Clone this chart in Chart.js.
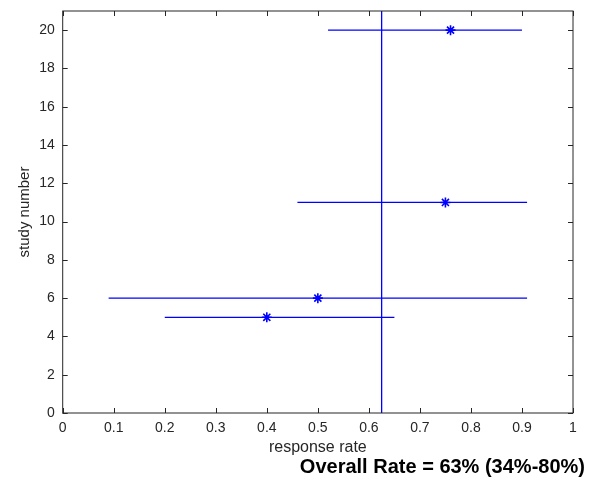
<!DOCTYPE html>
<html>
<head>
<meta charset="utf-8">
<script src="https://cdn.jsdelivr.net/npm/chart.js@4.4.1/dist/chart.umd.min.js"></script>
<style>
  html, body { margin: 0; padding: 0; background: #fff; }
  canvas { display: block; }
</style>
</head>
<body>
<canvas id="forestChart" width="600" height="486"></canvas>
<script>
// study data
const studies = [20, 11, 6, 5];
const rates = [0.76, 0.75, 0.50, 0.40];
const lowerCI = [0.52, 0.46, 0.09, 0.20];
const upperCI = [0.90, 0.91, 0.91, 0.65];
const overallRate = 0.625;
const summaryText = "Overall Rate = 63% (34%-80%)";

const xTicks = [0, 0.1, 0.2, 0.3, 0.4, 0.5, 0.6, 0.7, 0.8, 0.9, 1];
const yTicks = [0, 2, 4, 6, 8, 10, 12, 14, 16, 18, 20];
const yMin = 0, yMax = 21;

const BLUE = "#0000ff";
const AXIS = "#262626";

const datasets = [];

studies.forEach((s, i) => {
    datasets.push({
        data: [{ x: lowerCI[i], y: s }, { x: upperCI[i], y: s }],
        showLine: true,
        borderColor: BLUE,
        borderWidth: 1.3,
        pointRadius: 0
    });
});

datasets.push({
    data: [{ x: overallRate, y: yMin }, { x: overallRate, y: yMax }],
    showLine: true,
    borderColor: BLUE,
    borderWidth: 1.3,
    pointRadius: 0
});

datasets.push({
    data: studies.map((s, i) => ({ x: rates[i], y: s })),
    showLine: false,
    pointStyle: "star",
    pointRadius: 5,
    borderColor: BLUE,
    backgroundColor: BLUE,
    pointBorderWidth: 1.6
});

// matlab style box with inward ticks + summary text
const boxPlugin = {
    id: "matlabBox",
    afterDraw(chart) {
        const { ctx, chartArea: a, scales } = chart;
        const len = 5;
        ctx.save();
        ctx.strokeStyle = AXIS;
        ctx.lineWidth = 1;
        ctx.strokeRect(a.left, a.top, a.right - a.left, a.bottom - a.top);
        ctx.beginPath();
        xTicks.forEach(v => {
            const px = Math.round(scales.x.getPixelForValue(v)) + 0.5;
            ctx.moveTo(px, a.bottom); ctx.lineTo(px, a.bottom - len);
            ctx.moveTo(px, a.top); ctx.lineTo(px, a.top + len);
        });
        yTicks.forEach(v => {
            const py = Math.round(scales.y.getPixelForValue(v)) + 0.5;
            ctx.moveTo(a.left, py); ctx.lineTo(a.left + len, py);
            ctx.moveTo(a.right, py); ctx.lineTo(a.right - len, py);
        });
        ctx.stroke();

        ctx.fillStyle = "#000";
        ctx.font = "bold 20px 'Liberation Sans', Arial, sans-serif";
        ctx.textAlign = "right";
        ctx.textBaseline = "middle";
        ctx.fillText(summaryText, 585, 467);
        ctx.restore();
    }
};

const ctx = document.getElementById("forestChart").getContext("2d");
new Chart(ctx, {
    type: "scatter",
    data: { datasets },
    plugins: [boxPlugin],
    options: {
        responsive: false,
        animation: false,
        layout: { padding: { top: 11, right: 27, bottom: 29, left: 0 } },
        plugins: {
            legend: { display: false },
            tooltip: { enabled: false }
        },
        scales: {
            x: {
                type: "linear",
                min: 0,
                max: 1,
                afterBuildTicks: scale => { scale.ticks = xTicks.map(v => ({ value: v })); },
                afterFit: scale => { scale.height = 44; },
                grid: { display: false, drawTicks: false },
                border: { display: false },
                ticks: {
                    padding: 7,
                    color: AXIS,
                    font: { family: "'Liberation Sans', Arial, sans-serif", size: 14 },
                    maxRotation: 0,
                    callback: v => String(Math.round(v * 10) / 10)
                },
                title: {
                    display: true,
                    text: "response rate",
                    color: AXIS,
                    padding: 0,
                    font: { family: "'Liberation Sans', Arial, sans-serif", size: 16 }
                }
            },
            y: {
                type: "linear",
                min: yMin,
                max: yMax,
                afterBuildTicks: scale => { scale.ticks = yTicks.map(v => ({ value: v })); },
                afterFit: scale => {
                    scale.width = 62.7;
                    scale.paddingTop = 0;
                    scale.paddingBottom = 0;
                },
                grid: { display: false, drawTicks: false },
                border: { display: false },
                ticks: {
                    padding: 8,
                    color: AXIS,
                    font: { family: "'Liberation Sans', Arial, sans-serif", size: 14 }
                },
                title: {
                    display: true,
                    text: "study number",
                    color: AXIS,
                    padding: { top: 16, bottom: 0 },
                    font: { family: "'Liberation Sans', Arial, sans-serif", size: 15 }
                }
            }
        }
    }
});
</script>
</body>
</html>
